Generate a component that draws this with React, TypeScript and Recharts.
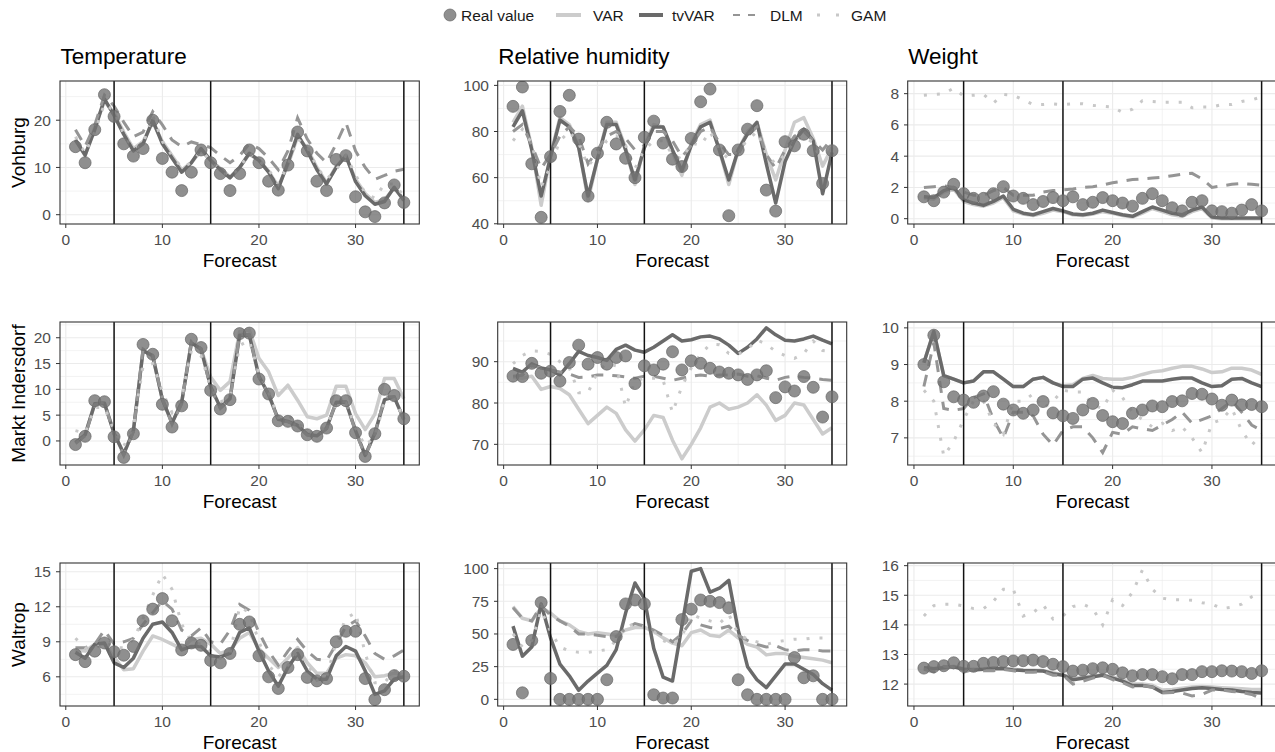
import React from "react";
import {
  CartesianGrid,
  ComposedChart,
  Line,
  ReferenceLine,
  XAxis,
  YAxis,
} from "recharts";

const FONT = "'Liberation Sans', Arial, Helvetica, sans-serif";

// forecast step on the x axis
const FORECAST = [
  1, 2, 3, 4, 5, 6, 7, 8, 9, 10, 11, 12, 13, 14, 15, 16, 17, 18, 19, 20, 21,
  22, 23, 24, 25, 26, 27, 28, 29, 30, 31, 32, 33, 34, 35,
];
const X_MAJOR = [0, 10, 20, 30];
const X_MINOR = [5, 15, 25, 35];
const SPLITS = [5, 15, 35];

const VARIABLES = ["Temperature", "Relative humidity", "Weight"];
const STATIONS = ["Vohburg", "Markt Indersdorf", "Waltrop"];

// ---- Vohburg ----
const vohTempReal = [14.4, 11, 18, 25.4, 20.8, 15, 12.4, 14, 20, 11.9, 9, 5.1, 9, 13.7, 11, 8.7, 5.1, 8.7, 13.7, 11, 7.1, 5.2, 10.5, 17.5, 13.5, 7.1, 5.1, 11.7, 12.5, 3.8, 0.6, -0.4, 2.5, 6.3, 2.6];
const vohTempVar = [16, 12.5, 18.5, 24, 21.5, 17.5, 14, 15.5, 19.5, 15.5, 12.5, 9.5, 11, 13.5, 11.5, 9.8, 8, 10, 12.8, 11.5, 9.2, 6, 10.5, 16.5, 14, 10, 6.8, 10.2, 12.3, 7.5, 4.5, 2.6, 3.2, 5.6, 3.3];
const vohTempTvvar = [15.8, 12.6, 18, 24.5, 21, 17, 13.5, 15, 20, 15, 12, 9, 11, 14, 11.5, 9.5, 7.8, 10, 13, 11.5, 9, 5.5, 11, 17, 13.5, 9.5, 6.5, 10, 12.5, 7, 4, 2.2, 2.8, 5.8, 3];
const vohTempDlm = [18, 14.5, 19, 25.3, 23, 19.6, 16.5, 17.5, 21.8, 19, 15.8, 14.4, 15.4, 14.8, 14.2, 12.5, 11, 12.5, 15, 14, 12, 9.5, 13.5, 20.5, 16, 13, 11, 15, 19.5, 13.5, 10, 7.5, 8.3, 9.2, 9.6];
const vohTempGam = [16.5, 13, 17.5, 23.5, 22, 17, 14, 15, 21, 15.5, 12.5, 10, 11, 13.5, 11.5, 9.5, 8, 10, 13, 11.5, 9.5, 6.5, 10.5, 16, 14.5, 10, 7.5, 9.5, 12.5, 8.5, 4.5, 3.5, 6.5, 6.5, 4];

const vohHumReal = [90.9, 99.3, 66, 42.8, 69.1, 88.7, 95.7, 76.7, 52, 70.6, 84, 74.6, 68.4, 60, 77.5, 84.5, 75, 68, 64.8, 77, 92.9, 98.4, 72, 43.5, 72, 81, 91.2, 54.6, 45.5, 75.6, 73.8, 78.8, 71.7, 57.5, 71.7];
const vohHumVar = [84, 91, 73, 48, 70, 86, 83, 74, 50, 68, 84, 84, 73, 57, 74, 83, 82, 71, 61, 75, 83, 85, 72, 57, 72, 80, 84, 70, 59, 72, 84, 86, 77, 65, 73];
const vohHumTvvar = [82, 89, 72, 52, 69, 85, 82, 73, 52, 68, 83, 83, 72, 59, 73, 82, 82, 72, 63, 74, 82, 84, 72, 59, 72, 79, 84, 66, 49, 67, 76, 81, 76, 53, 71];
const vohHumDlm = [80, 83, 74, 64, 70, 78, 82, 78, 66, 72, 78, 80, 77, 72, 74, 80, 80, 76, 69, 74, 80, 82, 75, 70, 70, 78, 82, 70, 64, 72, 78, 80, 76, 72, 77];
const vohHumGam = [76, 81, 75, 56, 65, 76, 80, 75, 65, 70, 76, 78, 74, 64, 72, 76, 76, 70, 68, 75, 74, 80, 72, 68, 72, 76, 80, 70, 66, 70, 76, 78, 75, 66, 74];

const vohWeightReal = [1.4, 1.15, 1.7, 2.2, 1.6, 1.3, 1.3, 1.6, 2.05, 1.45, 1.3, 0.9, 1.1, 1.35, 1.15, 1.4, 0.9, 1.05, 1.35, 1.15, 1.0, 0.8, 1.3, 1.6, 1.15, 0.7, 0.5, 1.05, 1.15, 0.5, 0.45, 0.35, 0.55, 0.9, 0.5];
const vohWeightVar = [1.3, 1.25, 1.7, 1.9, 1.1, 0.9, 0.8, 1.0, 1.35, 0.5, 0.3, 0.2, 0.35, 0.55, 0.45, 0.25, 0.2, 0.3, 0.45, 0.35, 0.2, 0.1, 0.35, 0.65, 0.45, 0.25, 0.15, 0.45, 0.65, 0.05, 0, 0, 0, 0, 0];
const vohWeightTvvar = [1.4, 1.35, 1.8, 2.0, 1.2, 1.0, 0.85, 1.1, 1.45, 0.6, 0.35, 0.25, 0.45, 0.65, 0.5, 0.3, 0.25, 0.35, 0.55, 0.4, 0.25, 0.15, 0.45, 0.75, 0.55, 0.35, 0.25, 0.55, 0.75, 0.1, 0.05, 0.05, 0.05, 0.05, 0.05];
const vohWeightDlm = [2.0, 2.05, 2.1, 2.0, 1.7, 1.5, 1.5, 1.8, 2.0, 1.5, 1.5, 1.5, 1.7, 1.8, 1.85, 1.9, 2.0, 2.05, 2.15, 2.3, 2.4, 2.5, 2.55, 2.6, 2.65, 2.75, 2.85, 2.9, 2.55, 2.0, 2.1, 2.2, 2.25, 2.2, 2.15];
const vohWeightGam = [7.9, 7.95, 8.0, 8.35, 7.85, 7.9, 7.95, 7.4, 7.95, 7.9, 7.6, 7.3, 7.3, 7.35, 7.3, 7.35, 7.35, 7.25, 7.2, 7.15, 6.8, 7.0, 7.55, 7.5, 7.45, 7.45, 7.45, 7.1, 7.15, 7.15, 7.3, 7.3, 7.5, 7.6, 7.8];

// ---- Markt Indersdorf ----
const mkiTempReal = [-0.7, 0.9, 7.8, 7.6, 0.8, -3.2, 1.4, 18.7, 16.8, 7.1, 2.7, 6.8, 19.7, 18.1, 9.8, 6.2, 8.0, 20.8, 20.9, 12.0, 9.1, 3.9, 3.8, 2.9, 1.2, 0.9, 2.5, 7.8, 7.8, 1.6, -3.0, 1.4, 10.0, 8.8, 4.3];
const mkiTempVar = [-0.3, 1.2, 7.2, 7.3, 1.5, -2.5, 2.0, 17.5, 16.5, 8.0, 3.5, 7.5, 19.0, 17.8, 12.4, 9.8, 11.5, 21.2, 21.5, 16, 13.4, 8.8, 10.8, 7.9, 4.7, 4.3, 5.0, 10.6, 10.6, 5.3, 2.2, 5.2, 12.1, 12.1, 8.2];
const mkiTempTvvar = [-0.3, 1.2, 7.2, 7.3, 1.5, -2.5, 2.0, 17.5, 16.5, 8.0, 3.5, 7.5, 19.0, 17.8, 10.5, 6.5, 8.2, 20.5, 20.5, 12.5, 9.0, 4.2, 3.8, 3.0, 1.3, 1.0, 2.5, 7.5, 7.5, 2.0, -2.8, 1.5, 8.0, 8.5, 4.2];
const mkiTempDlm = [-0.5, 1.0, 7.0, 7.5, 1.2, -2.8, 1.8, 17.8, 16.6, 8.2, 3.2, 7.2, 19.3, 17.9, 10.2, 6.3, 8.0, 20.7, 20.6, 12.3, 9.1, 4.0, 3.7, 2.9, 1.1, 0.8, 2.4, 7.6, 7.6, 1.8, -2.9, 1.3, 8.5, 8.6, 4.0];
const mkiTempGam = [2.0, 1.5, 6.5, 6.5, 2.0, -1.0, 2.8, 14.5, 15, 9.5, 5.5, 8.5, 17.5, 16.5, 10.5, 7.5, 8.5, 18.5, 19.5, 13, 9.5, 4.5, 5.0, 3.5, 1.8, 1.5, 3.0, 7.0, 7.3, 2.5, -1.0, 1.0, 7.5, 8.0, 4.5];

const mkiHumReal = [86.5, 86.4, 89.6, 87.2, 87.7, 85.3, 89.8, 94, 89.4, 91, 89.4, 91, 91.4, 84.7, 89, 88, 89.4, 92.4, 88, 90.2, 89.6, 88.4, 87.5, 87.2, 86.8, 85.7, 86.8, 87.8, 81.3, 83.9, 82.9, 86.4, 83.8, 76.6, 81.5];
const mkiHumVar = [86.2, 86, 86.5, 83.3, 84, 83.5, 82, 78.5, 75, 77, 79, 77.5, 73.5, 70.8, 73.5, 77, 76.5, 71, 66.5, 70, 74, 79, 80, 78.5, 79, 80, 82, 79.5, 75.8, 77, 80, 79.5, 76, 72.5, 74];
const mkiHumTvvar = [88.4, 87.5, 89.5, 88.5, 88, 86.8, 89.5, 92.5, 91.5, 91, 90.3, 93, 94, 92.8, 92.3, 93.5, 95, 96.5, 95, 95.3, 96, 96.2, 95.5, 94, 92, 93.5, 95.5, 98.2, 96.5, 95.2, 95, 95.5, 96.2, 95.2, 94.3];
const mkiHumDlm = [86.5, 86.7, 89, 88.5, 88, 87.5, 87, 86.2, 86.3, 86.8, 86.8, 86.6, 86.3, 86, 86.5, 86.5, 86, 85.5, 86, 86.5, 86.8, 86.5, 86.8, 86.8, 87, 86.5, 86.6, 86, 85.5, 86.2, 86.5, 86.2, 86, 85.7, 85.5];
const mkiHumGam = [89.5, 91.5, 92.6, 92.5, 91.8, 90, 88.5, 82.5, 82.5, 87.5, 89.6, 89, 79, 85.3, 86, 86, 85.5, 77.7, 84, 88.5, 91.8, 94.2, 94.1, 92, 91.8, 93, 95.3, 94.2, 92.5, 91.5, 90.8, 92, 95, 92.7, 92.5];

const mkiWeightReal = [9.0, 9.8, 8.53, 8.12, 8.03, 7.97, 8.14, 8.26, 7.92, 7.76, 7.67, 7.76, 7.99, 7.68, 7.6, 7.53, 7.76, 7.94, 7.61, 7.44, 7.39, 7.67, 7.76, 7.87, 7.85, 7.99, 8.01, 8.21, 8.19, 8.06, 7.89, 8.03, 7.9, 7.91, 7.85];
const mkiWeightVar = [9.05, 9.9, 8.7, 8.6, 8.5, 8.55, 8.8, 8.8, 8.6, 8.4, 8.4, 8.6, 8.65, 8.5, 8.42, 8.45, 8.62, 8.7, 8.62, 8.6, 8.6, 8.65, 8.73, 8.8, 8.83, 8.9, 8.95, 8.95, 8.88, 8.78, 8.8, 8.9, 8.9, 8.85, 8.73];
const mkiWeightTvvar = [9.05, 9.9, 8.7, 8.6, 8.5, 8.55, 8.8, 8.8, 8.6, 8.4, 8.4, 8.6, 8.65, 8.5, 8.4, 8.4, 8.6, 8.63, 8.5, 8.38, 8.37, 8.45, 8.55, 8.55, 8.55, 8.6, 8.63, 8.63, 8.5, 8.4, 8.42, 8.6, 8.62, 8.5, 8.4];
const mkiWeightDlm = [8.4, 9.6, 7.8, 7.75, 7.8, 8.1, 8.2, 7.5, 7.0, 7.7, 7.7, 7.6, 7.1, 6.8, 7.2, 7.3, 7.3, 7.0, 6.6, 7.15, 7.1, 7.3, 7.25, 7.2, 7.35, 7.5, 7.7, 7.4, 7.5, 7.6, 7.8, 8.0, 7.7, 7.35, 7.2];
const mkiWeightGam = [8.3, 8.0, 6.5, 6.9, 7.5, 8.0, 8.0, 7.4, 7.1, 8.0, 8.0, 8.2, 7.8, 8.0, 8.3, 8.25, 8.25, 7.9, 7.8, 8.3, 8.1, 7.7, 7.5, 7.3, 7.4, 7.2, 7.3, 7.0, 6.6, 7.4, 7.5, 7.8, 7.2, 6.8, 7.1];

// ---- Waltrop ----
const walTempReal = [7.9, 7.3, 8.2, 8.9, 8.15, 7.85, 8.6, 10.8, 11.8, 12.7, 10.8, 8.3, 8.9, 8.7, 7.4, 7.2, 8.0, 10.5, 10.7, 7.8, 6.0, 5.0, 6.8, 7.9, 5.95, 5.65, 5.85, 9.0, 9.9, 9.9, 5.85, 4.05, 4.9, 6.1, 6.05];
const walTempVar = [8.3, 8.2, 8.8, 8.8, 7.7, 6.6, 6.7, 8.2, 9.5, 9.2, 8.8, 8.4, 9.2, 9.3, 8.8, 8.0, 8.3, 9.3, 9.8, 8.4, 7.6, 6.8, 7.6, 8.5, 7.2, 6.3, 6.3, 7.6, 7.9, 7.8, 7.2, 6.0, 6.1, 6.3, 6.2];
const walTempTvvar = [8.1, 7.6, 8.8, 8.9, 7.2, 6.8, 7.6, 9.3, 10.5, 10.7, 9.8, 8.3, 8.6, 8.6, 7.8, 7.7, 8.0, 9.8, 10.2, 8.2, 6.5, 5.2, 6.8, 8.0, 6.5, 5.8, 5.8, 7.8, 8.6, 8.2, 6.5, 4.5, 4.8, 5.8, 6.0];
const walTempDlm = [8.5, 8.5, 8.8, 10.0, 8.8, 9.0, 9.3, 10.5, 11.5, 12.5, 11.8, 10.0, 9.5, 10.2, 9.0, 8.8, 10.0, 12.2, 11.7, 9.8, 8.2, 7.0, 8.2, 9.2, 8.2, 7.5, 7.4, 8.8, 10.3, 10.8, 9.5, 8.0, 7.5, 7.8, 8.3];
const walTempGam = [9.3, 8.5, 8.4, 9.0, 8.5, 8.5, 9.2, 11, 13, 14.8, 13.5, 10.5, 9.0, 8.8, 8.2, 7.6, 8.0, 12.0, 11.5, 9.0, 7.0, 6.0, 7.0, 8.2, 7.0, 5.7, 6.0, 9.0, 11.0, 11.5, 8.0, 5.5, 5.5, 6.5, 6.4];

const walHumReal = [42, 5, 45, 74, 16, 0, 0, 0, 0, 0, 15, 48, 73, 76, 73, 3.5, 1, 1, 61, 69, 76, 75, 74, 70, 15, 3.5, 0, 0, 0, 0, 32, 16.5, 18, 0, 0];
const walHumVar = [71, 62, 60, 70, 66, 60, 57, 52, 50, 51, 50, 49, 53, 55, 55, 52, 47, 43, 41, 51, 53, 49, 48, 53, 47, 42, 40, 34, 35, 35, 33, 32, 31, 30, 28];
const walHumTvvar = [56, 33, 40, 73, 47, 27, 18, 7, 14, 20, 26, 38, 66, 89, 77, 39, 17, 14, 56, 98, 100, 82, 85, 91, 53, 25, 15, 9, 18, 27, 27, 23, 19, 12, 7];
const walHumDlm = [70, 62, 60, 72, 64, 60, 56, 50, 50, 49, 48, 48, 54, 58, 56, 53, 49, 44, 50, 60, 57, 55, 54, 56, 49, 45, 42, 40, 41, 38, 37, 38, 38, 37, 37];
const walHumGam = [50, 40, 45, 68, 52, 40, 37, 36, 36, 37, 38, 45, 55, 58, 55, 52, 45, 42, 48, 65, 62, 60, 58, 65, 50, 46, 44, 42, 44, 45, 46, 46, 47, 47, 47];

const walWeightReal = [12.54, 12.59, 12.62, 12.72, 12.6, 12.6, 12.7, 12.73, 12.76, 12.78, 12.79, 12.81, 12.76, 12.67, 12.59, 12.44, 12.47, 12.52, 12.55, 12.5, 12.38, 12.28, 12.32, 12.32, 12.25, 12.18, 12.32, 12.32, 12.42, 12.42, 12.45, 12.44, 12.42, 12.36, 12.45];
const walWeightVar = [12.55, 12.53, 12.56, 12.6, 12.52, 12.5, 12.52, 12.55, 12.54, 12.5, 12.48, 12.47, 12.46, 12.38, 12.32, 12.2, 12.24, 12.28, 12.32, 12.24, 12.15, 12.0, 12.0, 11.96, 11.8, 11.82, 11.86, 11.9, 11.92, 11.9, 11.88, 11.86, 11.84, 11.82, 11.82];
const walWeightTvvar = [12.55, 12.52, 12.55, 12.58, 12.5, 12.48, 12.5, 12.53, 12.52, 12.48, 12.46, 12.45, 12.44, 12.35, 12.3, 12.15, 12.2, 12.25, 12.3, 12.2, 12.1, 11.95, 11.95, 11.9, 11.72, 11.75, 11.8, 11.85, 11.88, 11.85, 11.82, 11.8, 11.75, 11.72, 11.7];
const walWeightDlm = [12.5, 12.4, 12.6, 12.55, 12.4, 12.5, 12.45, 12.45, 12.5, 12.45, 12.4, 12.4, 12.42, 12.3, 12.3, 12.0, 12.1, 12.2, 12.3, 12.15, 12.05, 11.9, 11.95, 11.9, 11.7, 11.72, 11.7, 11.6, 11.65, 11.8, 11.8, 11.75, 11.72, 11.65, 11.5];
const walWeightGam = [14.3, 14.65, 14.7, 14.7, 14.64, 14.55, 14.55, 14.8, 15.2, 15.2, 14.3, 14.42, 14.68, 14.2, 14.3, 14.62, 14.7, 14.55, 14.0, 14.85, 14.65, 15.1, 15.85, 15.2, 14.9, 14.85, 14.85, 14.83, 14.75, 14.7, 14.55, 14.6, 14.7, 14.95, 15.1];

// ---- layout ----
const COL_LEFT = [60, 497.7, 907.7];
const COL_W = [359.3, 349, 369.5];
const ROW_TOP = [81, 322, 563];
const PLOT_H = 143;
const Y_AXIS_W = 60;
const X_AXIS_H = 40;
const TOP_PAD = 14;

type Panel = {
  row: number;
  col: number;
  real: number[];
  var: number[];
  tvvar: number[];
  dlm: number[];
  gam: number[];
  domain: [number, number];
  major: number[];
  minor: number[];
};

const PANELS: Panel[] = [
  { row: 0, col: 0, real: vohTempReal, var: vohTempVar, tvvar: vohTempTvvar, dlm: vohTempDlm, gam: vohTempGam, domain: [-1.97, 28.3], major: [0, 10, 20], minor: [5, 15, 25] },
  { row: 0, col: 1, real: vohHumReal, var: vohHumVar, tvvar: vohHumTvvar, dlm: vohHumDlm, gam: vohHumGam, domain: [39.9, 101.9], major: [40, 60, 80, 100], minor: [50, 70, 90] },
  { row: 0, col: 2, real: vohWeightReal, var: vohWeightVar, tvvar: vohWeightTvvar, dlm: vohWeightDlm, gam: vohWeightGam, domain: [-0.34, 8.81], major: [0, 2, 4, 6, 8], minor: [1, 3, 5, 7] },
  { row: 1, col: 0, real: mkiTempReal, var: mkiTempVar, tvvar: mkiTempTvvar, dlm: mkiTempDlm, gam: mkiTempGam, domain: [-4.66, 23.05], major: [0, 5, 10, 15, 20], minor: [-2.5, 2.5, 7.5, 12.5, 17.5, 22.5] },
  { row: 1, col: 1, real: mkiHumReal, var: mkiHumVar, tvvar: mkiHumTvvar, dlm: mkiHumDlm, gam: mkiHumGam, domain: [65, 99.6], major: [70, 80, 90], minor: [75, 85, 95] },
  { row: 1, col: 2, real: mkiWeightReal, var: mkiWeightVar, tvvar: mkiWeightTvvar, dlm: mkiWeightDlm, gam: mkiWeightGam, domain: [6.26, 10.16], major: [7, 8, 9, 10], minor: [6.5, 7.5, 8.5, 9.5] },
  { row: 2, col: 0, real: walTempReal, var: walTempVar, tvvar: walTempTvvar, dlm: walTempDlm, gam: walTempGam, domain: [3.5, 15.75], major: [6, 9, 12, 15], minor: [4.5, 7.5, 10.5, 13.5] },
  { row: 2, col: 1, real: walHumReal, var: walHumVar, tvvar: walHumTvvar, dlm: walHumDlm, gam: walHumGam, domain: [-5.1, 104.3], major: [0, 25, 50, 75, 100], minor: [12.5, 37.5, 62.5, 87.5] },
  { row: 2, col: 2, real: walWeightReal, var: walWeightVar, tvvar: walWeightTvvar, dlm: walWeightDlm, gam: walWeightGam, domain: [11.26, 16.09], major: [12, 13, 14, 15, 16], minor: [11.5, 12.5, 13.5, 14.5, 15.5] },
];

const POINT_DOT = { r: 6, fill: "#737373", fillOpacity: 0.8, stroke: "#666666", strokeOpacity: 0.7, strokeWidth: 1 };
const tickStyle = { fill: "#4D4D4D", fontSize: 15.5, fontFamily: FONT };

function PanelChart({ p }: { p: Panel }) {
  const data = FORECAST.map((x, i) => ({
    x,
    real: p.real[i],
    var: p.var[i],
    tvvar: p.tvvar[i],
    dlm: p.dlm[i],
    gam: p.gam[i],
  }));
  const w = COL_W[p.col];
  return (
    <div style={{ position: "absolute", left: COL_LEFT[p.col] - Y_AXIS_W, top: ROW_TOP[p.row] - TOP_PAD }}>
      <ComposedChart
        width={w + Y_AXIS_W}
        height={PLOT_H + X_AXIS_H + TOP_PAD}
        data={data}
        margin={{ top: TOP_PAD, right: 0, bottom: 0, left: 0 }}
      >
        <CartesianGrid stroke="#EBEBEB" strokeWidth={0.6} horizontalValues={p.minor} verticalValues={X_MINOR} />
        <CartesianGrid stroke="#EBEBEB" strokeWidth={1.1} horizontalValues={p.major} verticalValues={X_MAJOR} />
        <XAxis
          type="number"
          dataKey="x"
          domain={[-0.6, 36.6]}
          ticks={X_MAJOR}
          interval={0}
          allowDataOverflow
          height={X_AXIS_H}
          axisLine={false}
          tickSize={4}
          tickMargin={6}
          tickLine={{ stroke: "#333333" }}
          tick={tickStyle}
        />
        <YAxis
          type="number"
          domain={p.domain}
          ticks={p.major}
          interval={0}
          allowDataOverflow
          width={Y_AXIS_W}
          axisLine={false}
          tickSize={4}
          tickMargin={5}
          tickLine={{ stroke: "#333333" }}
          tick={tickStyle}
        />
        <Line dataKey="real" stroke="none" dot={POINT_DOT} activeDot={false} isAnimationActive={false} />
        <Line dataKey="var" stroke="#CCCCCC" strokeWidth={3.5} strokeLinejoin="round" dot={false} activeDot={false} isAnimationActive={false} />
        <Line dataKey="tvvar" stroke="#6a6a6a" strokeWidth={3.5} strokeLinejoin="round" dot={false} activeDot={false} isAnimationActive={false} />
        <Line dataKey="dlm" stroke="#959595" strokeWidth={3} strokeDasharray="12 9" dot={false} activeDot={false} isAnimationActive={false} />
        <Line dataKey="gam" stroke="#C8C8C8" strokeWidth={3} strokeDasharray="3 10" dot={false} activeDot={false} isAnimationActive={false} />
        {SPLITS.map((s) => (
          <ReferenceLine key={s} x={s} stroke="#111111" strokeWidth={1.5} />
        ))}
      </ComposedChart>
    </div>
  );
}

function Overlay() {
  return (
    <svg
      width={1275}
      height={752}
      style={{ position: "absolute", left: 0, top: 0, pointerEvents: "none" }}
      fontFamily={FONT}
    >
      {/* legend */}
      <circle cx={450} cy={15} r={6} fill="#737373" fillOpacity={0.8} stroke="#666666" strokeOpacity={0.7} />
      <text x={461} y={20.5} fontSize={15.5} fill="#1a1a1a">Real value</text>
      <line x1={556} x2={581} y1={15} y2={15} stroke="#CCCCCC" strokeWidth={4} />
      <text x={593} y={20.5} fontSize={15.5} fill="#1a1a1a">VAR</text>
      <line x1={639} x2={663} y1={15} y2={15} stroke="#6a6a6a" strokeWidth={4} />
      <text x={672} y={20.5} fontSize={15.5} fill="#1a1a1a">tvVAR</text>
      <line x1={733} x2={756} y1={15} y2={15} stroke="#959595" strokeWidth={2} strokeDasharray="7 8" />
      <text x={770} y={20.5} fontSize={15.5} fill="#1a1a1a">DLM</text>
      <line x1={817} x2={839} y1={15} y2={15} stroke="#C8C8C8" strokeWidth={3} strokeDasharray="3 16" />
      <text x={851} y={20.5} fontSize={15.5} fill="#1a1a1a">GAM</text>

      {VARIABLES.map((v, c) => (
        <text key={v} x={COL_LEFT[c] + 0.5} y={63.5} fontSize={22.5} fill="#000">{v}</text>
      ))}
      {STATIONS.map((s, r) => (
        <text
          key={s}
          transform={`translate(24.5, ${ROW_TOP[r] + PLOT_H / 2}) rotate(-90)`}
          textAnchor="middle"
          fontSize={19}
          fill="#000"
        >
          {s}
        </text>
      ))}
      {ROW_TOP.map((t) =>
        COL_LEFT.map((l, c) => (
          <g key={`${t}-${c}`}>
            <text x={l + COL_W[c] / 2} y={t + PLOT_H + 43} textAnchor="middle" fontSize={19} fill="#000">
              Forecast
            </text>
            <rect x={l} y={t} width={COL_W[c]} height={PLOT_H} fill="none" stroke="#333333" strokeWidth={1.1} />
          </g>
        ))
      )}
    </svg>
  );
}

export default function App() {
  return (
    <div
      style={{
        position: "absolute",
        left: 0,
        top: 0,
        width: 1275,
        height: 752,
        overflow: "hidden",
        background: "#ffffff",
        fontFamily: FONT,
      }}
    >
      {PANELS.map((p) => (
        <PanelChart key={`${p.row}-${p.col}`} p={p} />
      ))}
      <Overlay />
    </div>
  );
}
